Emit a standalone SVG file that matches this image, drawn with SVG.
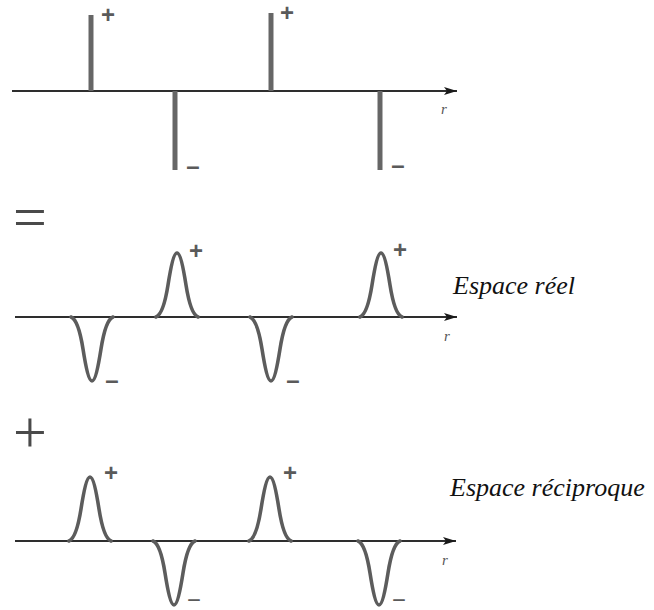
<svg xmlns="http://www.w3.org/2000/svg" xmlns:xlink="http://www.w3.org/1999/xlink" width="654" height="610" viewBox="0 0 654 610">
<style>
.axis{stroke:#2e2e2e;stroke-width:2;fill:none}
.spike{stroke:#666;stroke-width:5;fill:none}
.peak{stroke:#5c5c5c;stroke-width:3.6;fill:none;stroke-linejoin:round;stroke-linecap:round}
.sign{font-family:"Liberation Sans",Arial,sans-serif;font-weight:bold;font-size:24px;fill:#5a5a5a;text-anchor:middle}
.var{font-family:"Liberation Serif","Times New Roman",serif;font-style:italic;font-size:15px;fill:#555;text-anchor:middle}
.op{font-family:"Liberation Serif","Times New Roman",serif;font-size:60px;fill:#4a4a4a;text-anchor:middle}
.title{font-family:"Liberation Serif","Times New Roman",serif;font-style:italic;font-size:26px;fill:#111}
</style>
<defs>
<marker id="arr" markerUnits="userSpaceOnUse" markerWidth="14" markerHeight="10" refX="13" refY="5" orient="auto">
<path d="M0,1 L13,5 L0,9 L3,5 Z" fill="#1a1a1a"/>
</marker>
<path id="pk" class="peak" d="M-21,0 C-16,-2 -12,-13 -9,-32 C-6,-51 -3,-64 0,-64 C3,-64 6,-51 9,-32 C12,-13 16,-2 21,0"/>
</defs>

<g id="connectors">
<path class="axis" d="M12,91 H457" marker-end="url(#arr)"/>
<path class="axis" d="M15,317 H457" marker-end="url(#arr)"/>
<path class="axis" d="M15,541 H456" marker-end="url(#arr)"/>
</g>

<g id="panel-top">
<line class="spike" x1="91" y1="15" x2="91" y2="91"/>
<line class="spike" x1="175" y1="91" x2="175" y2="170"/>
<line class="spike" x1="271" y1="13" x2="271" y2="91"/>
<line class="spike" x1="380" y1="91" x2="380" y2="170"/>
<text class="sign" x="108" y="23">+</text>
<text class="sign" x="287" y="21">+</text>
<text class="sign" x="193" y="174">–</text>
<text class="sign" x="398" y="173">–</text>
<text class="var" x="444" y="114">r</text>
</g>

<g id="op-equal"><text class="op" x="30" y="237">=</text></g>

<g id="panel-middle">
<use xlink:href="#pk" transform="translate(92,317) scale(1,-1)"/>
<use xlink:href="#pk" transform="translate(177,317)"/>
<use xlink:href="#pk" transform="translate(271,317) scale(1,-1)"/>
<use xlink:href="#pk" transform="translate(381,317)"/>
<text class="sign" x="196" y="259">+</text>
<text class="sign" x="400" y="258">+</text>
<text class="sign" x="112" y="388">–</text>
<text class="sign" x="293" y="388">–</text>
<text class="var" x="447" y="341">r</text>
</g>

<g id="op-plus"><text class="op" x="30" y="452">+</text></g>

<g id="panel-bottom">
<use xlink:href="#pk" transform="translate(90,541)"/>
<use xlink:href="#pk" transform="translate(174,541) scale(1,-1)"/>
<use xlink:href="#pk" transform="translate(270,541)"/>
<use xlink:href="#pk" transform="translate(379,541) scale(1,-1)"/>
<text class="sign" x="111" y="481">+</text>
<text class="sign" x="290" y="481">+</text>
<text class="sign" x="194" y="605" style="font-size:18px" textLength="13" lengthAdjust="spacingAndGlyphs">–</text>
<text class="sign" x="399" y="605" style="font-size:18px" textLength="13" lengthAdjust="spacingAndGlyphs">–</text>
<text class="var" x="445" y="565">r</text>
</g>

<g id="label-real"><text class="title" x="453" y="294">Espace réel</text></g>
<g id="label-reciprocal"><text class="title" x="450" y="496">Espace réciproque</text></g>
</svg>
